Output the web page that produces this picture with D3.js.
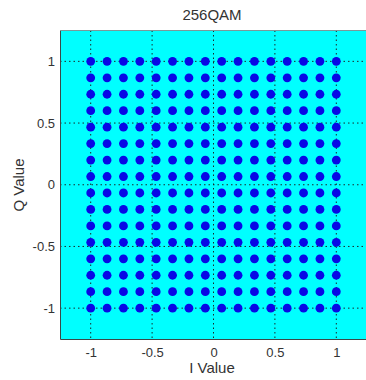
<!DOCTYPE html>
<html><head><meta charset="utf-8">
<script src="https://cdn.jsdelivr.net/npm/d3@7"></script>
<style>
html,body{margin:0;padding:0;background:#fff;overflow:hidden;}
text{font-family:"Liberation Sans",Arial,sans-serif;}
</style></head>
<body><svg id="c" width="366" height="380"></svg>
<script>
const title = "256QAM";
const xLabel = "I Value";
const yLabel = "Q Value";
const levels = [-1, -0.8667, -0.7333, -0.6, -0.4667, -0.3333, -0.2, -0.0667, 0.0667, 0.2, 0.3333, 0.4667, 0.6, 0.7333, 0.8667, 1];
const tickValues = [-1, -0.5, 0, 0.5, 1];
const tickLabels = ["-1", "-0.5", "0", "0.5", "1"];
const domain = [-1.25, 1.25];

const points = [];
levels.forEach(i => levels.forEach(q => points.push({i, q})));

const svg = d3.select("#c");
const x = d3.scaleLinear().domain(domain).range([60, 367]);
const y = d3.scaleLinear().domain(domain).range([339, 30.5]);

svg.append("rect").attr("x", x(domain[0])).attr("y", y(domain[1]))
  .attr("width", x(domain[1]) - x(domain[0])).attr("height", y(domain[0]) - y(domain[1]))
  .attr("fill", "#00ffff");

// grid
const g = svg.append("g");
g.selectAll(".gx").data(tickValues).join("line")
  .attr("x1", d => x(d)).attr("x2", d => x(d))
  .attr("y1", y(domain[1])).attr("y2", y(domain[0]))
  .attr("stroke", "#1a2a2a").attr("stroke-width", 1).attr("stroke-dasharray", "1.5,3");
g.selectAll(".gy").data(tickValues).join("line")
  .attr("y1", d => y(d)).attr("y2", d => y(d))
  .attr("x1", x(domain[0])).attr("x2", x(domain[1]))
  .attr("stroke", "#1a2a2a").attr("stroke-width", 1).attr("stroke-dasharray", "1.5,3");

// points
svg.append("g").selectAll("circle").data(points).join("circle")
  .attr("cx", d => x(d.i)).attr("cy", d => y(d.q)).attr("r", 4.4)
  .attr("fill", "#0808e6");

// axes
const fmt = d => tickLabels[tickValues.indexOf(d)];
const xAxis = svg.append("g").attr("transform", `translate(0,${y(domain[0])})`)
  .call(d3.axisBottom(x).tickValues(tickValues).tickFormat(fmt).tickSize(0).tickPadding(9));
const yAxis = svg.append("g").attr("transform", `translate(${x(domain[0])},0)`)
  .call(d3.axisLeft(y).tickValues(tickValues).tickFormat(fmt).tickSize(0).tickPadding(5));
[xAxis, yAxis].forEach(a => {
  a.select(".domain").attr("stroke", "#3a4a4a").attr("stroke-width", 1);
  a.selectAll("text").attr("font-size", 13).attr("fill", "#333")
    .attr("font-family", "'Liberation Sans', Arial, sans-serif");
});

svg.append("line").attr("x1", x(domain[0])).attr("x2", x(domain[1]))
  .attr("y1", y(domain[1])).attr("y2", y(domain[1])).attr("stroke", "#7a9a9a").attr("stroke-width", 1);

svg.append("text").attr("x", 212).attr("y", 20).attr("text-anchor", "middle")
  .attr("font-size", 15).attr("fill", "#333").text(title);
svg.append("text").attr("x", 212).attr("y", 373).attr("text-anchor", "middle")
  .attr("font-size", 15).attr("fill", "#333").text(xLabel);
svg.append("text").attr("transform", "translate(24,185) rotate(-90)").attr("text-anchor", "middle")
  .attr("font-size", 15).attr("fill", "#333").text(yLabel);
</script></body></html>
